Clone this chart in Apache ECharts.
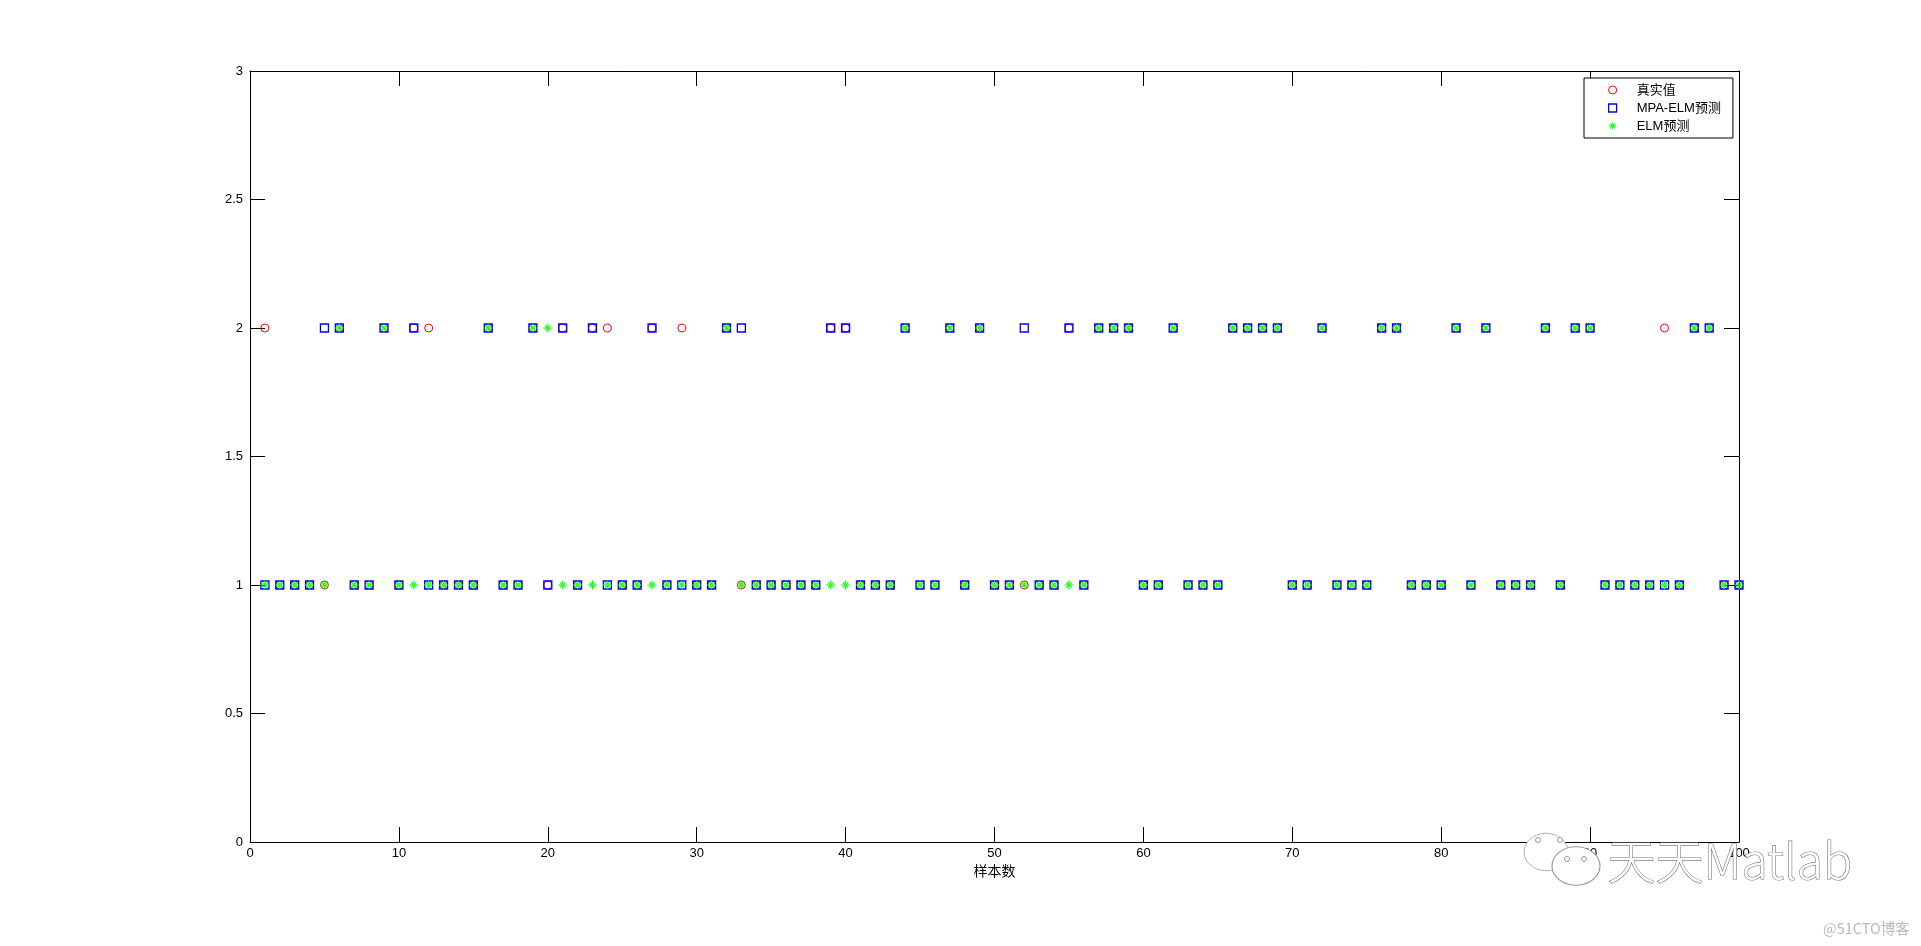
<!DOCTYPE html>
<html>
<head>
<meta charset="utf-8">
<script src="https://cdn.jsdelivr.net/npm/echarts@6/dist/echarts.min.js"></script>
<style>
html,body{margin:0;padding:0;background:#fff;}
#chart{width:1921px;height:946px;}
</style>
</head>
<body>
<div id="chart"></div>
<script>
// ---- data ----
const trueVals = [
  2,1,1,1,1,2,1,1,2,1,
  2,2,1,1,1,2,1,1,2,1,
  2,1,2,2,1,1,2,1,2,1,
  1,2,1,1,1,1,1,1,2,2,
  1,1,1,2,1,1,2,1,2,1,
  1,1,1,1,2,1,2,2,2,1,
  1,2,1,1,1,2,2,2,2,1,
  1,2,1,1,1,2,2,1,1,1,
  2,1,2,1,1,1,2,1,2,2,
  1,1,1,1,2,1,2,2,1,1
];
const mpaVals = [
  1,1,1,1,2,2,1,1,2,1,
  2,1,1,1,1,2,1,1,2,1,
  2,1,2,1,1,1,2,1,1,1,
  1,2,2,1,1,1,1,1,2,2,
  1,1,1,2,1,1,2,1,2,1,
  1,2,1,1,2,1,2,2,2,1,
  1,2,1,1,1,2,2,2,2,1,
  1,2,1,1,1,2,2,1,1,1,
  2,1,2,1,1,1,2,1,2,2,
  1,1,1,1,1,1,2,2,1,1
];
const elmVals = [
  1,1,1,1,1,2,1,1,2,1,
  1,1,1,1,1,2,1,1,2,2,
  1,1,1,1,1,1,1,1,1,1,
  1,2,1,1,1,1,1,1,1,1,
  1,1,1,2,1,1,2,1,2,1,
  1,1,1,1,1,1,2,2,2,1,
  1,2,1,1,1,2,2,2,2,1,
  1,2,1,1,1,2,2,1,1,1,
  2,1,2,1,1,1,2,1,2,2,
  1,1,1,1,1,1,2,2,1,1
];
const seriesNames = ['真实值', 'MPA-ELM预测', 'ELM预测'];
const xAxisName = '样本数';

function pairs(arr){ return arr.map((v,i)=>[i+1, v]); }

const starPath = 'path://M0,4.4h10v1.2h-10z M4.4,0h1.2v10h-1.2z M1.6,2.4l0.8,-0.8l6,6l-0.8,0.8z M8.4,2.4l-0.8,-0.8l-6,6l0.8,0.8z';
const font = '"Liberation Sans", Arial, "Noto Sans CJK SC", sans-serif';

const chart = echarts.init(document.getElementById('chart'), null, {renderer:'canvas'});

function axisCommon(){
  return {
    axisLine:{show:true, onZero:false, lineStyle:{color:'#000', width:1}},
    axisTick:{show:true, inside:true, length:15, lineStyle:{color:'#000', width:1}},
    splitLine:{show:false}
  };
}

chart.setOption({
  animation:false,
  backgroundColor:'#fff',
  textStyle:{fontFamily:font},
  grid:{left:250, right:182, top:71, bottom:104, containLabel:false},
  xAxis:[
    Object.assign({type:'value', min:0, max:100, interval:10, position:'bottom',
      name:xAxisName, nameLocation:'middle', nameGap:17,
      nameTextStyle:{color:'#000', fontSize:14, fontFamily:font},
      axisLabel:{color:'#000', fontSize:13, margin:5, fontFamily:font}}, axisCommon()),
    Object.assign({type:'value', min:0, max:100, interval:10, position:'top',
      axisLabel:{show:false}}, axisCommon())
  ],
  yAxis:[
    Object.assign({type:'value', min:0, max:3, interval:0.5, position:'left',
      axisLabel:{color:'#000', fontSize:13, margin:7, fontFamily:font}}, axisCommon()),
    Object.assign({type:'value', min:0, max:3, interval:0.5, position:'right',
      axisLabel:{show:false}}, axisCommon())
  ],
  legend:{
    orient:'vertical', left:1584, top:78,
    padding:[4,12,4,24],
    itemWidth:8, itemHeight:8, itemGap:2,
    backgroundColor:'#fff', borderColor:'#000', borderWidth:1, borderRadius:0,
    textStyle:{color:'#000', fontSize:13, lineHeight:16, fontFamily:font, padding:[0,0,0,15]},
    data:[
      {name:seriesNames[0], icon:'circle', itemStyle:{color:'rgba(0,0,0,0)', borderColor:'#ff0000', borderWidth:1}},
      {name:seriesNames[1], icon:'rect', itemStyle:{color:'rgba(0,0,0,0)', borderColor:'#0000ff', borderWidth:1.3}},
      {name:seriesNames[2], icon:starPath, itemStyle:{color:'#00ff00', borderWidth:0}}
    ]
  },
  series:[
    {name:seriesNames[0], type:'scatter', xAxisIndex:0, yAxisIndex:0, clip:false,
     symbol:'circle', symbolSize:8, z:2,
     itemStyle:{color:'rgba(0,0,0,0)', borderColor:'#ff0000', borderWidth:1, opacity:1},
     emphasis:{disabled:true}, data:pairs(trueVals)},
    {name:seriesNames[1], type:'scatter', xAxisIndex:0, yAxisIndex:0, clip:false,
     symbol:'rect', symbolSize:8, z:3,
     itemStyle:{color:'rgba(0,0,0,0)', borderColor:'#0000ff', borderWidth:1.3, opacity:1},
     emphasis:{disabled:true}, data:pairs(mpaVals)},
    {name:seriesNames[2], type:'scatter', xAxisIndex:0, yAxisIndex:0, clip:false,
     symbol:starPath, symbolSize:9, z:4,
     itemStyle:{color:'#00ff00', borderWidth:0, opacity:1},
     emphasis:{disabled:true}, data:pairs(elmVals)}
  ],
  graphic:[
    {type:'circle', z:100, shape:{cx:1546, cy:852, r:22}, scaleY:0.85, originY:852, originX:1546,
     style:{fill:'#fff', stroke:'#aaa', lineWidth:1}},
    {type:'circle', z:100, shape:{cx:1538, cy:840, r:2.5}, style:{fill:'#fff', stroke:'#999', lineWidth:1}},
    {type:'circle', z:100, shape:{cx:1560, cy:840, r:2.5}, style:{fill:'#fff', stroke:'#999', lineWidth:1}},
    {type:'circle', z:101, shape:{cx:1576, cy:866, r:24}, scaleY:0.8, originY:866, originX:1576,
     style:{fill:'#fff', stroke:'#999', lineWidth:1.2}},
    {type:'circle', z:101, shape:{cx:1567, cy:859, r:2.5}, style:{fill:'#fff', stroke:'#999', lineWidth:1}},
    {type:'circle', z:101, shape:{cx:1584, cy:859, r:2.5}, style:{fill:'#fff', stroke:'#999', lineWidth:1}},
    {type:'text', z:102, left:1607, top:836,
     style:{text:'天天Matlab', fill:'#fff', stroke:'#777', lineWidth:1.2,
            font:'300 48px "Noto Sans CJK SC", "Noto Sans", sans-serif'}},
    {type:'text', z:102, left:1823, top:921,
     style:{text:'@51CTO博客', fill:'#bbb', font:'14.5px "Noto Sans CJK SC", sans-serif'}}
  ]
});
</script>
</body>
</html>
